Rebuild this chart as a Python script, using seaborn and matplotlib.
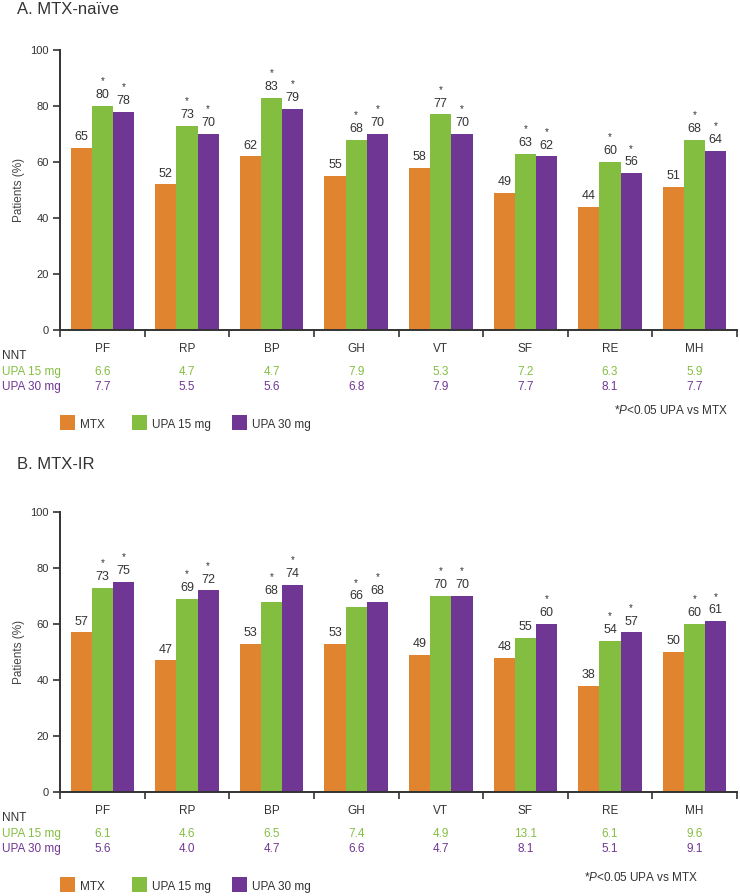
import numpy as np
import pandas as pd
import matplotlib
matplotlib.use("Agg")
import matplotlib.pyplot as plt
import matplotlib.transforms as mtransforms
from matplotlib.patches import Rectangle
import seaborn as sns

# Dominios SF-36 y grupos de tratamiento
domains = ["PF", "RP", "BP", "GH", "VT", "SF", "RE", "MH"]
groups = ["MTX", "UPA 15 mg", "UPA 30 mg"]
colors = ["#E0842F", "#84BE41", "#703694"]

# A. MTX-naive
naive_mtx = [65, 52, 62, 55, 58, 49, 44, 51]
naive_upa15 = [80, 73, 83, 68, 77, 63, 60, 68]
naive_upa30 = [78, 70, 79, 70, 70, 62, 56, 64]
naive_sig15 = [True, True, True, True, True, True, True, True]
naive_sig30 = [True, True, True, True, True, True, True, True]
naive_nnt15 = ["6.6", "4.7", "4.7", "7.9", "5.3", "7.2", "6.3", "5.9"]
naive_nnt30 = ["7.7", "5.5", "5.6", "6.8", "7.9", "7.7", "8.1", "7.7"]

# B. MTX-IR
ir_mtx = [57, 47, 53, 53, 49, 48, 38, 50]
ir_upa15 = [73, 69, 68, 66, 70, 55, 54, 60]
ir_upa30 = [75, 72, 74, 68, 70, 60, 57, 61]
ir_sig15 = [True, True, True, True, True, False, True, True]
ir_sig30 = [True, True, True, True, True, True, True, True]
ir_nnt15 = ["6.1", "4.6", "6.5", "7.4", "4.9", "13.1", "6.1", "9.6"]
ir_nnt30 = ["5.6", "4.0", "4.7", "6.6", "4.7", "8.1", "5.1", "9.1"]

sns.set_style("white")
plt.rcParams["font.family"] = ["Liberation Sans", "DejaVu Sans"]
plt.rcParams["mathtext.fontset"] = "custom"
plt.rcParams["mathtext.rm"] = "Liberation Sans"
plt.rcParams["mathtext.it"] = "Liberation Sans:italic"

W, H = 740, 896
fig = plt.figure(figsize=(W / 100, H / 100), dpi=100)
TXT = "#333333"


def fy(px):
    # posicion vertical en pixeles -> fraccion de figura
    return 1 - px / H


def draw_panel(zero_px, title, title_px, mtx, u15, u30, sig15, sig30, nnt15, nnt30,
               foot_right, foot_px, legend_px):
    ax = fig.add_axes([60 / W, fy(zero_px), 677 / W, 280 / H])
    df = pd.DataFrame({
        "domain": domains * 3,
        "group": [groups[0]] * 8 + [groups[1]] * 8 + [groups[2]] * 8,
        "value": mtx + u15 + u30,
    })
    sns.barplot(data=df, x="domain", y="value", hue="group", order=domains,
                hue_order=groups, palette=colors, saturation=1, width=0.75,
                linewidth=0, legend=False, ax=ax)
    ax.set_xlim(-0.5, 7.5)
    ax.set_ylim(0, 100)
    ax.set_yticks([0, 20, 40, 60, 80, 100])
    ax.set_xlabel("")
    ax.set_ylabel("Patients (%)", fontsize=8.5, color="#444444", labelpad=4)
    for s in ["top", "right"]:
        ax.spines[s].set_visible(False)
    for s in ["left", "bottom"]:
        ax.spines[s].set_color(TXT)
        ax.spines[s].set_linewidth(1.4)
    ax.tick_params(axis="y", direction="out", length=5, width=1.2, color=TXT,
                   labelsize=8, labelcolor=TXT, pad=3, left=True)
    ax.tick_params(axis="x", which="major", length=0, labelsize=8.5,
                   labelcolor=TXT, pad=9)
    ax.set_xticks(np.arange(-0.5, 8, 1), minor=True)
    ax.tick_params(axis="x", which="minor", direction="out", length=5,
                   width=1.2, color=TXT, bottom=True)

    # etiquetas de valores y asteriscos
    sigs = [[False] * 8, sig15, sig30]
    vals = [mtx, u15, u30]
    for k, cont in enumerate(ax.containers):
        for i, bar in enumerate(cont):
            x = bar.get_x() + bar.get_width() / 2
            top = bar.get_height()
            ax.annotate(str(vals[k][i]), (x, top), xytext=(0, 3.5),
                        textcoords="offset points", ha="center", va="bottom",
                        fontsize=9, color=TXT)
            if sigs[k][i]:
                ax.annotate("*", (x, top), xytext=(0, 14),
                            textcoords="offset points", ha="center",
                            va="bottom", fontsize=7, color=TXT)

    # titulo del panel
    fig.text(17 / W, fy(title_px), title, fontsize=12, color=TXT,
             ha="left", va="center")

    # filas NNT
    tr = mtransforms.blended_transform_factory(ax.transData, fig.transFigure)
    fig.text(2 / W, fy(zero_px + 26), "NNT", fontsize=8.5, color=TXT,
             va="center")
    fig.text(2 / W, fy(zero_px + 42), "UPA 15 mg", fontsize=8.5,
             color=colors[1], va="center")
    fig.text(2 / W, fy(zero_px + 57), "UPA 30 mg", fontsize=8.5,
             color=colors[2], va="center")
    for i in range(8):
        ax.text(i, fy(zero_px + 42), nnt15[i], transform=tr, ha="center",
                va="center", fontsize=8.5, color=colors[1])
        ax.text(i, fy(zero_px + 57), nnt30[i], transform=tr, ha="center",
                va="center", fontsize=8.5, color=colors[2])

    # nota al pie
    fig.text(foot_right / W, fy(foot_px), r"*$\it{P}$<0.05 UPA vs MTX",
             fontsize=8.5, color=TXT, ha="right", va="center")

    # leyenda
    lx = [60, 132, 232]
    for c, lab, x0 in zip(colors, groups, lx):
        fig.add_artist(Rectangle((x0 / W, fy(legend_px + 8)), 15 / W, 15 / H,
                                 transform=fig.transFigure, color=c, lw=0))
        fig.text((x0 + 20) / W, fy(legend_px + 3), lab, fontsize=8.5,
                 color=TXT, ha="left", va="center")
    return ax


draw_panel(330, "A. MTX-na\u00efve", 10, naive_mtx, naive_upa15, naive_upa30,
           naive_sig15, naive_sig30, naive_nnt15, naive_nnt30,
           728, 410, 422)
draw_panel(792, "B. MTX-IR", 464, ir_mtx, ir_upa15, ir_upa30,
           ir_sig15, ir_sig30, ir_nnt15, ir_nnt30,
           698, 877, 884)

fig.savefig("out.png", dpi=100)
